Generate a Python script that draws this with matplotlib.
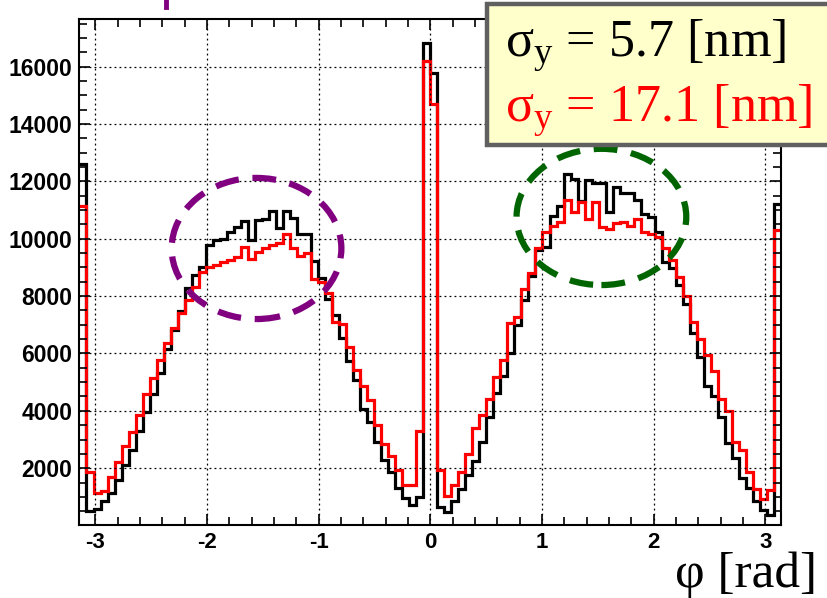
import numpy as np
import matplotlib
matplotlib.use("Agg")
import matplotlib.pyplot as plt
from matplotlib.patches import Ellipse, Rectangle
from matplotlib.lines import Line2D
from matplotlib.ticker import MultipleLocator, FixedLocator

plt.rcParams['axes.unicode_minus'] = False
plt.rcParams['mathtext.fontset'] = 'custom'
plt.rcParams['mathtext.rm'] = 'Liberation Serif'

# phi histogram, 100 bins over [-pi, pi]
n_bins = 100
black_counts = [
    12620, 520, 560, 870, 1140, 1600, 2120, 2620, 3280, 3950,
    4590, 5310, 6170, 6830, 7470, 8280, 8740, 9030, 9780, 9970,
    10000, 10220, 10420, 10610, 9970, 10650, 10700, 10960, 10360, 10960,
    10720, 10160, 10160, 9210, 8630, 7900, 7340, 6530, 5740, 5060,
    4080, 3600, 2900, 2300, 1850, 1300, 950, 700, 1000, 16840,
    15790, 660, 490, 860, 1280, 1780, 2250, 2900, 3800, 4620,
    5200, 6000, 6980, 7850, 8690, 9600, 9700, 10780, 11130, 12250,
    12070, 11300, 12060, 11950, 11930, 10920, 11800, 11580, 11600, 11360,
    10850, 10750, 10220, 9180, 8980, 8400, 7730, 6710, 5860, 4870,
    4500, 3800, 2870, 2350, 1650, 1300, 840, 550, 370, 11200,
]
red_counts = [
    11130, 1870, 1120, 1220, 1690, 2210, 2790, 3260, 3860, 4590,
    5150, 5780, 6350, 6880, 7400, 7860, 8320, 8850, 9030, 9080,
    9200, 9270, 9370, 9700, 9300, 9550, 9690, 9790, 9860, 10170,
    9670, 9400, 9500, 8580, 8490, 8120, 7090, 7040, 6220, 5410,
    4880, 4380, 3520, 2850, 2410, 1920, 1420, 1400, 3290, 16200,
    14700, 1950, 1030, 1400, 1870, 2480, 3390, 3840, 4410, 5170,
    5770, 7050, 7260, 8250, 8800, 9680, 10220, 10450, 10580, 11360,
    10920, 11270, 10700, 11270, 10420, 10330, 10550, 10600, 10450, 10700,
    10250, 10150, 10060, 9680, 9250, 8680, 7990, 7090, 6510, 5950,
    5400, 4420, 4010, 2900, 2620, 1860, 1270, 920, 1240, 10320,
]
legend_labels = [r"$\mathrm{σ_{y}}$ = 5.7 [nm]", r"$\mathrm{σ_{y}}$ = 17.1 [nm]"]
x_ticks = [-3, -2, -1, 0, 1, 2, 3]
y_ticks = [2000, 4000, 6000, 8000, 10000, 12000, 14000, 16000]

edges = np.linspace(-np.pi, np.pi, n_bins + 1)

fig = plt.figure(figsize=(8.27, 5.98), dpi=100)
ax = fig.add_axes([0.0961, 0.1221, 0.8483, 0.8461])

ax.stairs(black_counts, edges, color='black', linewidth=2.3, baseline=None)
ax.stairs(red_counts, edges, color='#ff0000', linewidth=2.3, baseline=None)

ax.set_xlim(-np.pi, np.pi)
ax.set_ylim(20, 17660)

ax.xaxis.set_major_locator(FixedLocator(x_ticks))
ax.xaxis.set_minor_locator(MultipleLocator(0.2))
ax.yaxis.set_major_locator(FixedLocator(y_ticks))
ax.yaxis.set_minor_locator(MultipleLocator(500))
ax.tick_params(which='both', direction='in', top=True, right=True, width=1.2)
ax.tick_params(which='major', length=8)
ax.tick_params(which='minor', length=5.5)
ax.tick_params(axis='y', pad=5)
ax.tick_params(axis='x', pad=5)
for lab in ax.get_xticklabels():
    lab.set_fontfamily('Liberation Sans')
    lab.set_fontweight('bold')
    lab.set_fontsize(16)
for lab in ax.get_yticklabels():
    lab.set_fontfamily('Liberation Sans')
    lab.set_fontweight('bold')
    lab.set_fontsize(16.5)

ax.grid(True, which='major', color='black', linestyle=(0, (1.5, 2.5)), linewidth=0.9)
for sp in ax.spines.values():
    sp.set_linewidth(1.5)

# dashed ellipses around the two broad peaks
ax.add_patch(Ellipse((-1.556, 9660), 1.52, 4920, fill=False, edgecolor='#800080',
                     linewidth=4.5, linestyle=(0, (3.8, 2.2)), zorder=5))
ax.add_patch(Ellipse((1.533, 10760), 1.52, 4750, fill=False, edgecolor='#006400',
                     linewidth=4.5, linestyle=(0, (3.8, 2.2)), zorder=5))

# axis title
fig.text(0.988, 0.019, "φ [rad]", ha='right', va='baseline',
         fontfamily='Liberation Serif', fontsize=37)

# legend box, runs off the right edge like the original
fig.add_artist(Rectangle((0.589, 0.7575), 0.45, 0.236, transform=fig.transFigure,
                         facecolor='#ffffcc', edgecolor='#606060', linewidth=3.2,
                         zorder=10, clip_on=False))
fig.text(0.6106, 0.9047, legend_labels[0], color='black', ha='left', va='baseline',
         fontfamily='Liberation Serif', fontsize=37.5, zorder=11)
fig.text(0.6106, 0.7966, legend_labels[1], color='#ff0000', ha='left', va='baseline',
         fontfamily='Liberation Serif', fontsize=37.5, zorder=11)

# fragment of purple text cut off at the top
fig.add_artist(Line2D([166 / 827, 166 / 827], [1.0, 1 - 7 / 598], transform=fig.transFigure,
                      color='#800080', linewidth=3.5))

fig.savefig("out.png", dpi=100)
